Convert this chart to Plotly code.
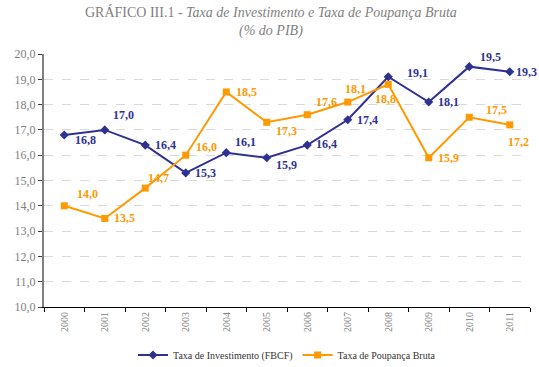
import plotly.graph_objects as go

years = ["2000", "2001", "2002", "2003", "2004", "2005", "2006", "2007", "2008", "2009", "2010", "2011"]
investimento = [16.8, 17.0, 16.4, 15.3, 16.1, 15.9, 16.4, 17.4, 19.1, 18.1, 19.5, 19.3]
poupanca = [14.0, 13.5, 14.7, 16.0, 18.5, 17.3, 17.6, 18.1, 18.8, 15.9, 17.5, 17.2]

NAVY = "#2E3192"
ORANGE = "#FF9900"
FONT = "Liberation Serif"

# label offsets (style only): (xshift, yshift) in px, label left-anchored
inv_off = [(9, -5), (6, 15), (8, 0), (7, 0), (7, 11), (7, -7), (7, 1), (7, 0), (17, 4), (7, 0), (9, 10), (4, 0)]
pou_off = [(11, 12), (7, 0), (1, 10), (8, 8), (8, 0), (7, -9), (7, 13), (-5, 13), (-15, -15), (7, 0), (15, 7), (-4, -17)]

fig = go.Figure()
fig.add_trace(go.Scatter(
    x=years, y=investimento, mode="lines+markers", name="Taxa de Investimento (FBCF)",
    line=dict(color=NAVY, width=2), marker=dict(symbol="diamond", size=7, color=NAVY)))
fig.add_trace(go.Scatter(
    x=years, y=poupanca, mode="lines+markers", name="Taxa de Poupança Bruta",
    line=dict(color=ORANGE, width=2), marker=dict(symbol="square", size=7, color=ORANGE)))

def fmt(v):
    return f"{v:.1f}".replace(".", ",")

for series, offs, col in ((investimento, inv_off, NAVY), (poupanca, pou_off, ORANGE)):
    for i, (v, (dx, dy)) in enumerate(zip(series, offs)):
        fig.add_annotation(x=i, y=v, xref="x", yref="y", text=f"<b>{fmt(v)}</b>", showarrow=False,
                           xanchor="left", yanchor="middle", xshift=dx, yshift=dy,
                           font=dict(family=FONT, size=12, color=col))

# title as annotation (paper coords above the plot area)
fig.add_annotation(
    text="GRÁFICO III.1 - <i>Taxa de Investimento e Taxa de Poupança Bruta</i><br><i>(% do PIB)</i>",
    xref="paper", yref="paper", x=0.468, y=1.205, xanchor="center", yanchor="top",
    showarrow=False, align="center",
    font=dict(family=FONT, size=14, color="#7f7f7f"))

fig.update_layout(
    width=539, height=367,
    margin=dict(l=44, r=9, t=54, b=60, autoexpand=False),
    paper_bgcolor="white", plot_bgcolor="white",
    separators=",.",
    font=dict(family=FONT),
    showlegend=True,
    legend=dict(orientation="h", x=0.5, xanchor="center", y=-0.19, yanchor="middle",
                font=dict(family=FONT, size=10, color="#333333"),
                tracegroupgap=0),
)
fig.update_xaxes(
    type="category", range=[-0.5, 11.5], tickson="boundaries",
    ticks="outside", ticklen=4, tickcolor="black",
    showline=True, linecolor="black", linewidth=1, showgrid=False,
    tickangle=-90, tickfont=dict(family=FONT, size=10, color="#808080"))
fig.update_yaxes(
    range=[10, 20], dtick=1, tickformat=".1f",
    ticks="outside", ticklen=4, tickcolor="#404040",
    showline=True, linecolor="#808080", linewidth=2,
    showgrid=True, gridcolor="#d9d9d9", griddash="dash", gridwidth=1,
    zeroline=False, tickfont=dict(family=FONT, size=12, color="#808080"))

fig.write_html("out.html", config={"displayModeBar": False},
               post_script="document.body.style.margin='0';document.body.style.padding='0';")
